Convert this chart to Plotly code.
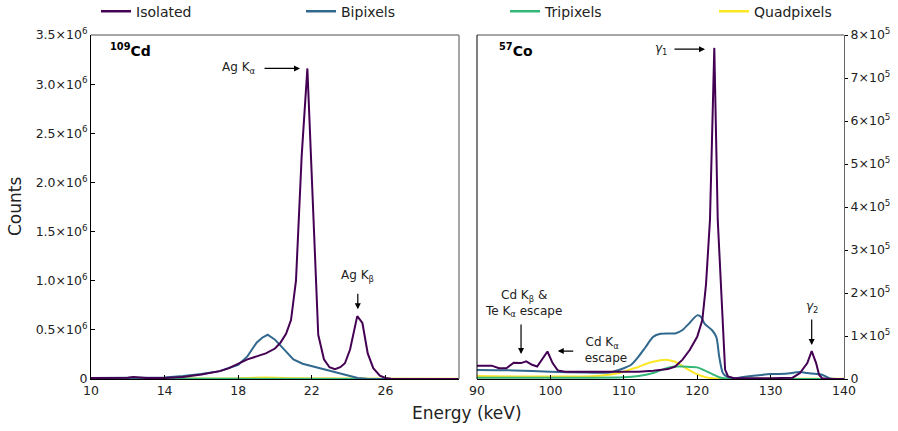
import plotly.graph_objects as go

# ---------------- data ----------------
# 109Cd panel (energy keV, counts)
cd_iso_x = [10, 11, 12, 12.3, 12.7, 13, 14, 15, 16, 17, 17.5, 18, 18.5, 19, 19.5, 20, 20.3, 20.6, 20.87,
            21.14, 21.45, 21.76, 22.07, 22.35, 22.66, 22.96, 23.26, 23.55, 23.8, 24.08, 24.47, 24.75,
            25.04, 25.34, 25.7, 26.0, 26.3, 27, 28, 30]
cd_iso_y = [0.01e6, 0.01e6, 0.012e6, 0.02e6, 0.012e6, 0.01e6, 0.01e6, 0.02e6, 0.045e6, 0.08e6, 0.11e6,
            0.155e6, 0.2e6, 0.23e6, 0.26e6, 0.31e6, 0.37e6, 0.46e6, 0.6e6, 1.0e6, 2.27e6, 3.16e6, 1.75e6,
            0.45e6, 0.2e6, 0.12e6, 0.1e6, 0.12e6, 0.16e6, 0.3e6, 0.64e6, 0.57e6, 0.26e6, 0.11e6, 0.035e6,
            0.01e6, 0.002e6, 0, 0, 0]
cd_bi_x = [10, 12, 14, 15, 16, 17, 18, 18.5, 19, 19.3, 19.6, 20, 20.5, 21, 21.5, 22, 23, 24, 24.5, 25, 26, 30]
cd_bi_y = [0.01e6, 0.01e6, 0.015e6, 0.03e6, 0.05e6, 0.08e6, 0.145e6, 0.23e6, 0.37e6, 0.42e6, 0.45e6,
           0.4e6, 0.3e6, 0.2e6, 0.155e6, 0.13e6, 0.08e6, 0.03e6, 0.01e6, 0.003e6, 0, 0]
cd_tri_x = [10, 14, 18, 19.5, 21, 24, 30]
cd_tri_y = [0.004e6, 0.004e6, 0.005e6, 0.007e6, 0.005e6, 0.002e6, 0]
cd_quad_x = [10, 14, 18, 19.5, 21, 24, 30]
cd_quad_y = [0.005e6, 0.005e6, 0.008e6, 0.015e6, 0.008e6, 0.004e6, 0.002e6]

# 57Co panel
co_iso_x = [90, 91, 92, 93, 94, 95, 96, 96.7, 97.5, 98.2, 99, 99.6, 100.3, 101, 102, 105, 110, 112, 114,
            116, 117, 118, 119, 120, 120.7, 121.2, 121.74, 122.33, 122.8, 123.3, 123.8, 124.2, 125, 130,
            133, 134, 135, 135.6, 136.2, 136.6, 137, 138, 140]
co_iso_y = [31000, 31000, 31000, 25000, 25000, 38000, 37000, 41000, 33000, 29000, 48000, 64000, 37000,
            20000, 17000, 17000, 17000, 17000, 19000, 23000, 29000, 45000, 68000, 98000, 137000, 220000,
            370000, 770000, 370000, 183000, 22000, 6000, 2000, 2000, 3000, 14000, 37000, 65000, 37000,
            10000, 2000, 0, 0]
co_bi_x = [90, 95, 100, 105, 108, 110, 111, 112, 113, 114, 115, 116, 117, 118, 119, 120, 120.5, 121, 122,
           122.6, 123, 123.5, 124, 125, 126, 128, 130, 132, 134, 135, 136, 137, 137.5, 138, 139, 140]
co_bi_y = [21000, 20000, 17000, 15000, 15000, 25000, 33000, 52000, 75000, 98000, 105000, 106000, 106000,
           114000, 131000, 148000, 145000, 129000, 114000, 98000, 52000, 14000, 6000, 2000, 4000, 8000,
           11500, 12000, 16000, 14000, 12000, 10000, 6000, 2000, 0, 0]
co_tri_x = [90, 100, 105, 110, 112, 114, 115, 116, 117, 118, 119, 120, 121, 122, 123, 124, 125, 140]
co_tri_y = [3000, 3000, 3000, 4000, 7000, 14000, 20000, 26000, 29000, 29000, 28000, 27000, 20000, 12000,
            4000, 1000, 300, 0]
co_quad_x = [90, 95, 100, 105, 107, 109, 110, 111, 112, 113, 114, 115.5, 116, 117, 118, 119, 120, 121,
             122, 123, 124, 140]
co_quad_y = [7000, 6000, 6000, 6000, 8000, 13000, 17000, 23000, 28000, 35000, 40000, 45000, 44000, 40000,
             30000, 20000, 11000, 5000, 2000, 1000, 500, 500]

series_names = ["Isolated", "Bipixels", "Tripixels", "Quadpixels"]
series_colors = ["#440154", "#31688e", "#35b779", "#fde725"]

left_yticks = [0, 0.5e6, 1.0e6, 1.5e6, 2.0e6, 2.5e6, 3.0e6, 3.5e6]
left_yticktext = ["0", "0.5×10<sup>6</sup>", "1.0×10<sup>6</sup>", "1.5×10<sup>6</sup>",
                  "2.0×10<sup>6</sup>", "2.5×10<sup>6</sup>", "3.0×10<sup>6</sup>", "3.5×10<sup>6</sup>"]
right_yticks = [0, 1e5, 2e5, 3e5, 4e5, 5e5, 6e5, 7e5, 8e5]
right_yticktext = ["0"] + [f"{i}×10<sup>5</sup>" for i in range(1, 9)]
left_xticks = [10, 14, 18, 22, 26]
right_xticks = [90, 100, 110, 120, 130, 140]

# ---------------- figure ----------------
fig = go.Figure()
FONT = "DejaVu Sans"

left_sets = [(cd_iso_x, cd_iso_y), (cd_bi_x, cd_bi_y), (cd_tri_x, cd_tri_y), (cd_quad_x, cd_quad_y)]
right_sets = [(co_iso_x, co_iso_y), (co_bi_x, co_bi_y), (co_tri_x, co_tri_y), (co_quad_x, co_quad_y)]

# draw order: quad, tri, bi, iso (iso on top)
for i in [3, 2, 1, 0]:
    x, y = left_sets[i]
    fig.add_trace(go.Scatter(x=x, y=y, mode="lines", name=series_names[i],
                             line=dict(color=series_colors[i], width=2), showlegend=False,
                             xaxis="x", yaxis="y", cliponaxis=False))
for i in [3, 2, 1, 0]:
    x, y = right_sets[i]
    shape = "linear" if i == 0 else "spline"
    fig.add_trace(go.Scatter(x=x, y=y, mode="lines", name=series_names[i],
                             line=dict(color=series_colors[i], width=2, shape=shape, smoothing=0.8),
                             showlegend=False, xaxis="x2", yaxis="y2"))

W, H = 898, 431
L, R, T, B = 91, 54, 35, 52
pw = W - L - R
d1 = (459 - L) / pw
d2 = (477 - L) / pw

# legend entries, one small legend per series so they can be spaced like the original
legend_ids = ["legend", "legend2", "legend3", "legend4"]
legend_px = [96, 301, 505, 714]
for i in range(4):
    fig.add_trace(go.Scatter(x=[None], y=[None], mode="lines", name=series_names[i],
                             line=dict(color=series_colors[i], width=2.5), xaxis="x", yaxis="y",
                             legend=legend_ids[i]))

axis_common = dict(showgrid=False, zeroline=False, ticks="inside", ticklen=4, tickcolor="black",
                   tickfont=dict(family=FONT, size=12.5, color="#222"), showline=True, linecolor="black",
                   linewidth=1)

layout_legends = {}
for i in range(4):
    layout_legends[legend_ids[i]] = dict(
        orientation="h", x=(legend_px[i] - L) / pw, xanchor="left", y=1.068, yanchor="middle",
        font=dict(family=FONT, size=14, color="#222"), bgcolor="rgba(0,0,0,0)", itemwidth=30)

fig.update_layout(
    width=W, height=H,
    margin=dict(l=L, r=R, t=T, b=B, autoexpand=False),
    paper_bgcolor="white", plot_bgcolor="white",
    font=dict(family=FONT, color="#222"),
    xaxis=dict(domain=[0, d1], range=[10, 30], tickvals=left_xticks, anchor="y", **axis_common),
    yaxis=dict(domain=[0, 1], range=[0, 3.5e6], tickvals=left_yticks, ticktext=left_yticktext,
               anchor="x", **axis_common),
    xaxis2=dict(domain=[d2, 1], range=[90, 140], tickvals=right_xticks, anchor="y2", **axis_common),
    yaxis2=dict(domain=[0, 1], range=[0, 8e5], tickvals=right_yticks, ticktext=right_yticktext,
                anchor="x2", side="right",
                **{**axis_common, "ticks": "outside", "ticklen": 3, "linecolor": "#666"}),
    showlegend=True,
    **layout_legends,
)

# grey top/right spines
shapes = [
    dict(type="line", xref="x domain", yref="y domain", x0=0, x1=1, y0=1, y1=1, line=dict(color="#888", width=1.5)),
    dict(type="line", xref="x domain", yref="y domain", x0=1, x1=1, y0=0, y1=1, line=dict(color="#888", width=1.5)),
    dict(type="line", xref="x2 domain", yref="y2 domain", x0=0, x1=1, y0=1, y1=1, line=dict(color="#888", width=1.5)),
    dict(type="line", xref="x2 domain", yref="y2 domain", x0=0, x1=0, y0=0, y1=1, line=dict(color="black", width=1)),
]
fig.update_layout(shapes=shapes)

ann_font = dict(family=FONT, size=12, color="#222")
anns = [
    # panel labels
    dict(xref="x domain", yref="y domain", x=0.045, y=0.955, text="<b><sup>109</sup>Cd</b>", showarrow=False,
         xanchor="left", yanchor="middle", font=dict(family=FONT, size=14, color="black")),
    dict(xref="x2 domain", yref="y2 domain", x=0.055, y=0.955, text="<b><sup>57</sup>Co</b>", showarrow=False,
         xanchor="left", yanchor="middle", font=dict(family=FONT, size=14, color="black")),
    # Ag Ka
    dict(xref="x", yref="y", x=21.36, y=3.16e6, ax=-37, ay=0, text="", showarrow=True, arrowhead=2,
         arrowsize=1, arrowwidth=1.2, arrowcolor="black"),
    dict(xref="x", yref="y", x=21.36, y=3.16e6, xshift=-61, text="Ag K<sub>α</sub>", showarrow=False,
         xanchor="center", yanchor="middle", font=ann_font),
    # Ag Kb
    dict(xref="x", yref="y", x=24.5, y=0.71e6, ax=0, ay=-17, text="", showarrow=True, arrowhead=2,
         arrowsize=1, arrowwidth=1.2, arrowcolor="black"),
    dict(xref="x", yref="y", x=24.5, y=0.71e6, yshift=33, text="Ag K<sub>β</sub>", showarrow=False,
         xanchor="center", yanchor="middle", font=ann_font),
    # gamma1
    dict(xref="x2", yref="y2", x=121.06, y=767000, ax=-32, ay=0, text="", showarrow=True, arrowhead=2,
         arrowsize=1, arrowwidth=1.2, arrowcolor="black"),
    dict(xref="x2", yref="y2", x=121.06, y=767000, xshift=-44, text="<i>γ</i><sub>1</sub>", showarrow=False,
         xanchor="center", yanchor="middle", font=ann_font),
    # gamma2
    dict(xref="x2", yref="y2", x=135.6, y=79000, ax=0, ay=-27, text="", showarrow=True, arrowhead=2,
         arrowsize=1, arrowwidth=1.2, arrowcolor="black"),
    dict(xref="x2", yref="y2", x=135.6, y=79000, yshift=38, text="<i>γ</i><sub>2</sub>", showarrow=False,
         xanchor="center", yanchor="middle", font=ann_font),
    # Cd Kb & Te Ka escape
    dict(xref="x2", yref="y2", x=96.0, y=58000, ax=0, ay=-31, text="", showarrow=True, arrowhead=2,
         arrowsize=1, arrowwidth=1.2, arrowcolor="black"),
    dict(xref="x2", yref="y2", x=96.0, y=58000, xshift=2, yshift=51,
         text="Cd K<sub>β</sub> &amp;<br>Te K<sub>α</sub> escape", showarrow=False,
         xanchor="center", yanchor="middle", align="center", font=ann_font),
    # Cd Ka escape
    dict(xref="x2", yref="y2", x=101.0, y=65000, ax=17, ay=0, text="", showarrow=True, arrowhead=2,
         arrowsize=1, arrowwidth=1.2, arrowcolor="black"),
    dict(xref="x2", yref="y2", x=101.0, y=65000, xshift=44, yshift=1,
         text="Cd K<sub>α</sub><br>  escape", showarrow=False,
         xanchor="center", yanchor="middle", align="center", font=ann_font),
    # axis titles
    dict(xref="paper", yref="paper", x=(467 - L) / pw, y=-(413 - (H - B)) / (H - T - B),
         text="Energy (keV)", showarrow=False, xanchor="center", yanchor="middle",
         font=dict(family=FONT, size=17, color="#222")),
    dict(xref="paper", yref="paper", x=-(L - 15) / pw, y=(H - B - 207) / (H - T - B),
         text="Counts", showarrow=False, textangle=-90, xanchor="center", yanchor="middle",
         font=dict(family=FONT, size=17, color="#222")),
]
fig.update_layout(annotations=anns)

fig.write_html("out.html")
